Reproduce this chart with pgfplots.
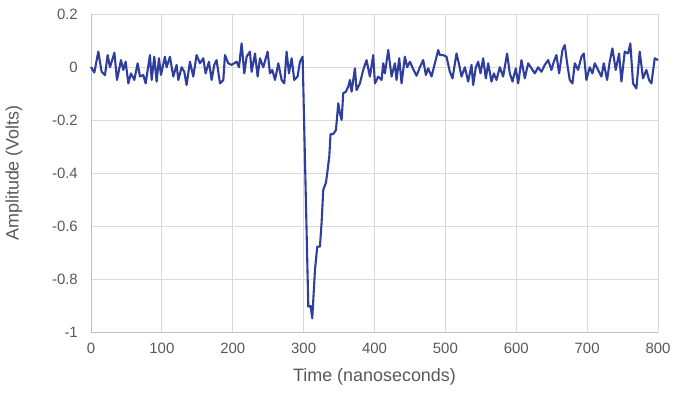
\documentclass[border=0pt]{standalone}
\usepackage{pgfplots}
\pgfplotsset{compat=1.18}
\usepackage{fontspec}
\setmainfont{Liberation Sans}
\definecolor{line}{RGB}{47,62,158}
\definecolor{txt}{RGB}{89,89,89}
\definecolor{gridc}{RGB}{217,217,217}
\definecolor{axc}{RGB}{191,191,191}
\begin{document}
\begin{tikzpicture}
\begin{axis}[
  scale only axis, width=567bp, height=318bp,
  xmin=0, xmax=800, ymin=-1, ymax=0.2,
  xtick={0,100,...,800}, ytick={-1,-0.8,...,0.2},
  yticklabels={-1,-0.8,-0.6,-0.4,-0.2,0,0.2},
  axis x line*=bottom, axis y line*=left,
  axis line style={draw=axc, line width=0.8bp},
  xmajorgrids, ymajorgrids,
  grid style={draw=gridc, line width=0.8bp},
  major tick length=0pt,
  /pgf/number format/assume math mode=true,
  /pgf/number format/fixed,
  ticklabel style={font=\fontsize{15}{18}\selectfont, text=txt},
  xticklabel style={anchor=north, inner sep=0pt, yshift=-11bp},
  yticklabel style={anchor=east, inner sep=0pt, xshift=-13bp},
  label style={font=\fontsize{18}{21}\selectfont, text=txt},
  xlabel={Time (nanoseconds)}, ylabel={Amplitude (Volts)},
  xlabel style={at={(axis description cs:0.5,-0.1415)}, anchor=center},
  ylabel style={at={(axis description cs:-0.1358,0.5)}, anchor=center, rotate=0},
  clip=false,
]
\addplot[line, line width=2.1bp, line join=round] table {
t v
0 0.000
4.7 -0.021
10.3 0.058
15.0 -0.018
19.7 -0.031
23.5 0.045
26.8 -0.001
29.2 0.020
33.0 0.054
36.7 -0.049
42.3 0.026
45.6 -0.011
48.9 0.020
52.7 -0.062
56.4 -0.024
61.1 -0.049
65.8 0.014
69.1 -0.036
73.8 -0.030
77.1 -0.062
83.2 0.045
85.6 -0.049
89.3 0.039
92.6 -0.055
95.9 0.033
98.7 -0.030
104.3 0.039
106.7 -0.001
111.4 0.039
116.1 -0.036
120.8 0.008
123.2 -0.049
127.9 -0.001
131.6 -0.018
134.9 -0.068
139.6 0.020
144.3 -0.036
149.0 0.045
153.7 0.014
158.4 0.033
161.7 -0.024
166.4 0.020
170.2 -0.049
173.9 0.008
177.2 0.026
182.0 -0.062
186.7 -0.049
189.0 0.045
193.7 0.014
198.4 0.008
205.5 0.020
208.8 -0.001
212.5 0.089
216.3 -0.024
219.6 0.039
224.3 0.058
226.6 -0.018
231.4 0.051
235.1 -0.036
238.4 0.033
243.1 -0.001
249.2 0.058
252.5 -0.024
255.8 -0.011
259.6 -0.049
264.3 0.014
269.0 -0.049
272.7 -0.062
276.0 0.058
279.3 -0.024
283.1 0.033
286.8 -0.049
291.5 -0.036
294.8 0.020
298.6 0.039
306.6 -0.904
309.8 -0.902
312.2 -0.948
316.0 -0.766
319.2 -0.678
323.0 -0.678
325.3 -0.590
327.7 -0.464
331.5 -0.436
333.3 -0.401
336.2 -0.338
338.0 -0.253
341.8 -0.253
345.6 -0.238
348.9 -0.137
351.2 -0.175
353.6 -0.200
355.9 -0.099
359.7 -0.093
363.0 -0.074
365.3 -0.049
367.7 -0.093
372.4 -0.005
374.7 -0.087
379.4 -0.062
384.1 -0.011
388.8 0.026
393.5 -0.036
398.2 0.045
400.6 -0.062
405.3 -0.036
410.0 -0.049
412.3 0.014
414.7 -0.024
419.4 0.064
424.1 -0.036
428.8 0.014
431.1 -0.049
434.9 0.033
438.2 -0.062
442.9 0.039
446.1 -0.001
450.0 0.020
454.6 -0.008
459.3 -0.033
464.0 -0.001
468.7 0.026
472.5 -0.030
475.8 -0.005
480.5 -0.036
485.2 0.014
489.9 0.064
492.2 0.045
496.9 0.045
501.6 0.039
506.3 -0.018
510.1 -0.043
515.7 0.051
519.5 0.008
522.8 -0.036
527.5 -0.001
532.2 -0.055
536.9 0.008
539.2 -0.068
543.0 -0.001
546.3 0.020
549.6 -0.024
553.3 0.033
557.1 -0.043
560.4 0.014
565.1 -0.055
568.4 -0.024
572.1 -0.049
576.8 -0.001
581.5 -0.036
587.1 0.051
590.9 -0.024
594.7 -0.055
599.4 -0.005
602.7 -0.062
607.4 0.026
612.1 -0.043
616.8 0.014
621.5 -0.005
626.2 -0.024
630.9 -0.001
635.6 -0.018
640.3 0.008
645.0 0.026
649.7 -0.011
653.0 0.020
656.7 0.045
660.5 -0.024
665.2 0.064
668.5 0.083
671.8 0.014
675.5 -0.049
679.3 -0.062
682.6 0.014
687.3 -0.011
692.0 0.039
695.3 0.051
699.0 -0.049
703.7 -0.001
707.5 -0.024
710.8 0.014
715.5 -0.011
720.2 -0.036
723.5 0.014
728.2 -0.049
731.9 0.020
735.7 0.070
740.4 -0.011
745.1 0.051
748.4 -0.055
753.1 0.058
757.8 0.051
761.0 0.089
764.8 -0.062
769.5 -0.081
774.2 0.058
778.9 -0.043
783.6 -0.011
787.4 -0.049
790.7 -0.062
795.4 0.033
800.0 0.026
};
\end{axis}
\pgfresetboundingbox
\path (-91bp,-61bp) rectangle (586bp,332bp);
\end{tikzpicture}
\end{document}
